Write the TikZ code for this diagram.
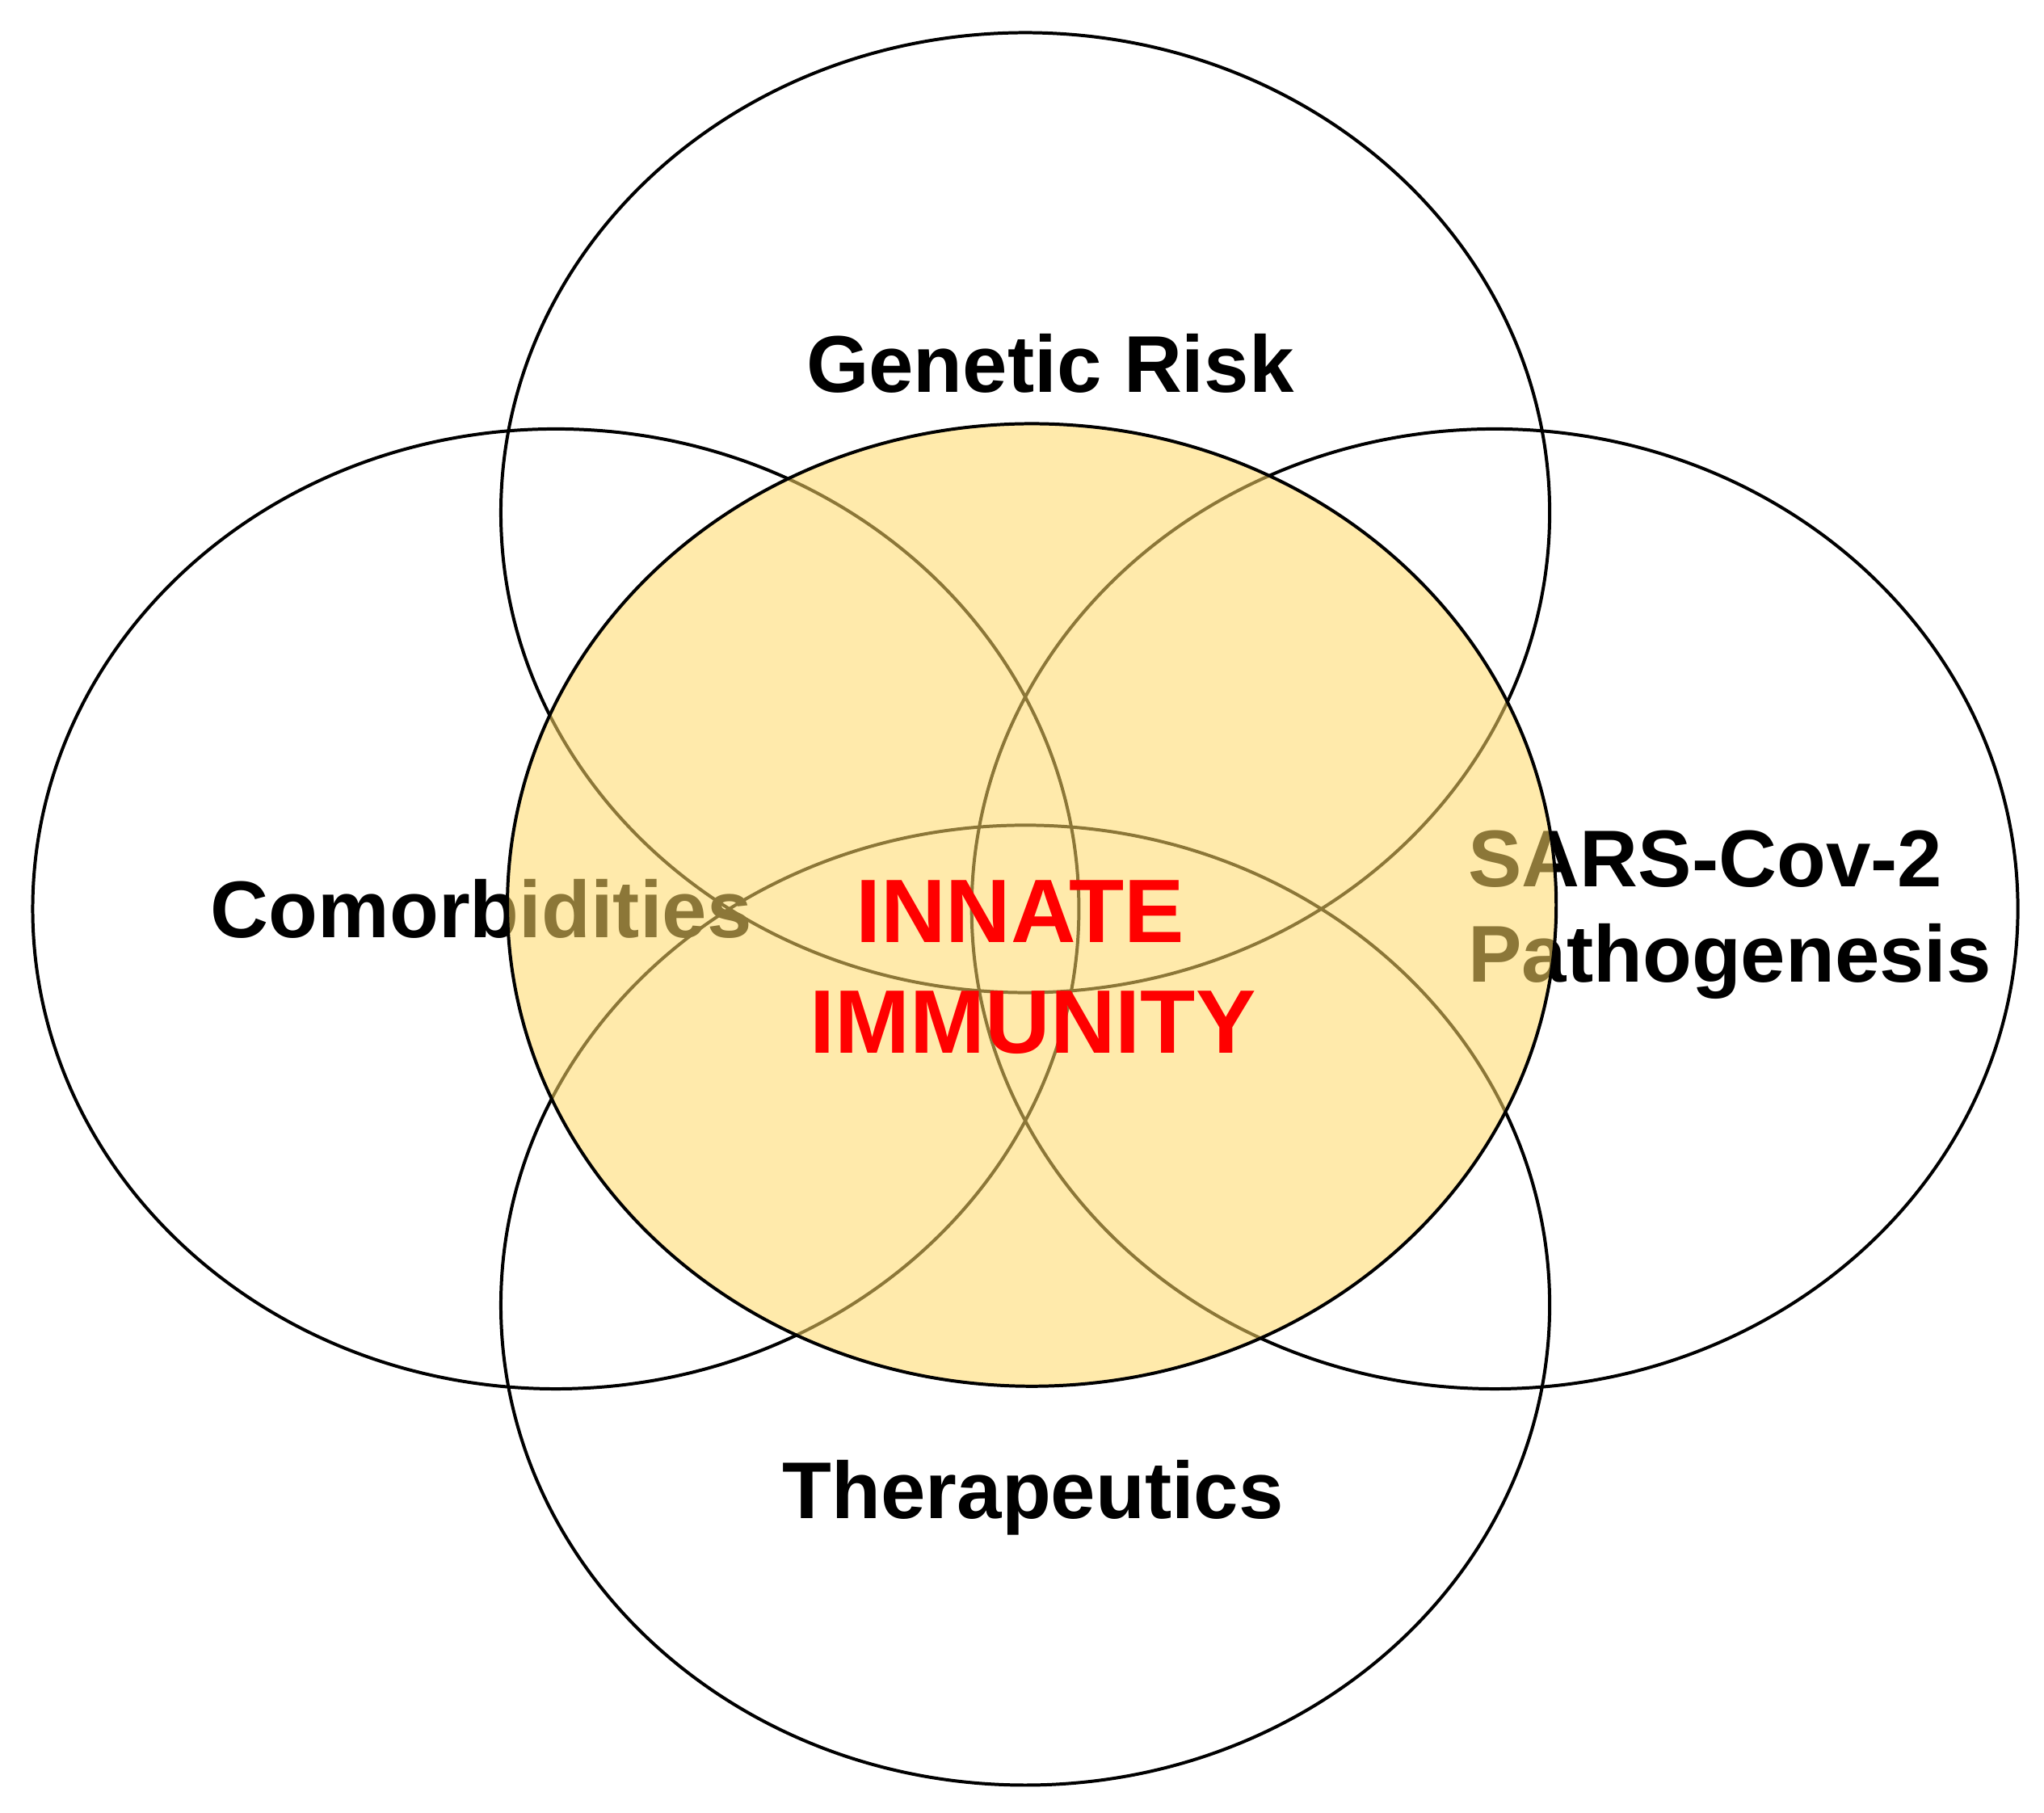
\documentclass[tikz,border=0pt]{standalone}
\usepackage{fontspec}
\setmainfont{Liberation Sans}
\begin{document}
\begin{tikzpicture}[x=0.01cm,y=-0.01cm,
  ring/.style={draw=black,line width=0.7pt},
  lab/.style={font=\fontsize{17.5}{21}\selectfont\bfseries,inner sep=0pt},
  core/.style={font=\fontsize{19.6}{23}\selectfont\bfseries,text=red,inner sep=0pt}]
\useasboundingbox (0,0) rectangle (1563,1386);
\fill[white] (0,0) rectangle (1563,1386);
\draw[ring] (784,392) ellipse [x radius=401,y radius=367];
\draw[ring] (425,695) ellipse [x radius=400,y radius=367];
\draw[ring] (1143,695) ellipse [x radius=400,y radius=367];
\draw[ring] (784,998) ellipse [x radius=401,y radius=367];
\node[lab] (gen) at (803,278) {Genetic Risk};
\node[lab] (com) at (368,695) {Comorbidities};
\node[lab,anchor=west] (sars) at (1122,657) {SARS-Cov-2};
\node[lab,anchor=west] (path) at (1122,735) {Pathogenesis};
\node[lab] (ther) at (790,1145) {Therapeutics};
\fill[fill={rgb,255:red,255;green,217;blue,102},fill opacity=0.55] (789,692) ellipse [x radius=401,y radius=368];
\draw[ring] (789,692) ellipse [x radius=401,y radius=368];
\node[core] (inn) at (780,697) {INNATE};
\node[core] (imm) at (790,782) {IMMUNITY};
\end{tikzpicture}
\end{document}
